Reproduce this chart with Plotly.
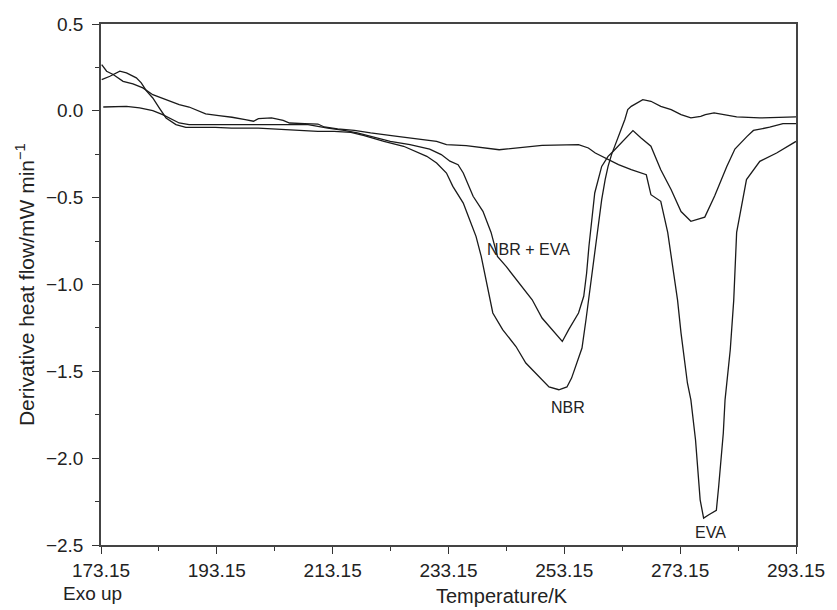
import plotly.graph_objects as go

# ---- data (Temperature / K, derivative heat flow / mW min^-1) ----
eva_T = [173.27, 174.12, 175.25, 176.96, 178.67, 180.38, 182.09, 184.38, 186.65, 188.36, 190.07,
         191.22, 193.49, 195.77, 198.06, 199.47, 200.33, 202.6, 204.6, 205.7, 208.3, 210.6, 211.7,
         214.0, 216.9, 219.7, 224.3, 229.4, 231.1, 232.8, 236.2, 241.9, 244.8, 249.3, 255.6, 257.3,
         258.5, 260.7, 262.5, 264.7, 267.3, 268.1, 269.8, 271.0, 272.7, 273.3, 274.4, 275.0, 275.8,
         276.6, 277.2, 278.1, 279.4, 279.8, 280.6, 280.9, 281.8, 282.4, 282.9, 284.6, 286.9, 289.8,
         293.15]
eva_V = [0.266, 0.228, 0.209, 0.170, 0.155, 0.132, 0.093, 0.065, 0.036, 0.022, -0.003,
         -0.018, -0.028, -0.037, -0.051, -0.060, -0.045, -0.041, -0.055, -0.070, -0.074, -0.076, -0.093,
         -0.104, -0.112, -0.127, -0.147, -0.170, -0.176, -0.195, -0.200, -0.224, -0.214, -0.199, -0.195, -0.214,
         -0.243, -0.281, -0.31, -0.339, -0.368, -0.483, -0.521, -0.70, -1.09, -1.28, -1.567, -1.664, -1.894,
         -2.24, -2.345, -2.326, -2.30, -2.163, -1.855, -1.664, -1.376, -1.09, -0.70, -0.396, -0.291, -0.243,
         -0.176]

nbr_T = [173.27, 174.69, 176.4, 177.54, 179.25, 180.1, 180.96, 182.09, 183.2, 184.38, 186.09, 187.8,
         192.9, 195.7, 200.3, 204.6, 210.6, 213.4, 216.3, 218.6, 222.0, 225.4, 227.7, 229.4, 231.1,
         232.8, 233.9, 235.7, 236.8, 237.9, 238.8, 239.6, 240.2, 240.8, 242.5, 244.8, 246.5, 247.6,
         249.3, 250.5, 252.2, 253.6, 254.4, 255.3, 256.2, 256.9, 257.4, 258.2, 259.0, 259.6, 260.2,
         260.7, 261.3, 263.6, 264.1, 264.7, 266.7, 268.1, 269.8, 271.6, 273.3, 275.0, 276.7, 277.5,
         279.0, 282.9, 286.9, 293.15]
nbr_V = [0.180, 0.199, 0.228, 0.218, 0.190, 0.161, 0.116, 0.074, 0.017, -0.041, -0.079, -0.095,
         -0.095, -0.099, -0.099, -0.108, -0.118, -0.118, -0.124, -0.143, -0.176, -0.204, -0.237, -0.262, -0.30,
         -0.358, -0.435, -0.531, -0.627, -0.723, -0.838, -0.972, -1.068, -1.164, -1.26, -1.357, -1.452, -1.49,
         -1.548, -1.59, -1.606, -1.59, -1.539, -1.452, -1.366, -1.2, -1.07, -0.876, -0.665, -0.511, -0.396,
         -0.32, -0.252, -0.05, 0.007, 0.026, 0.064, 0.055, 0.026, 0.007, -0.022, -0.041, -0.032, -0.022,
         -0.012, -0.035, -0.041, -0.035]

mix_T = [173.54, 175.25, 177.54, 179.82, 182.09, 183.8, 184.95, 186.65, 188.36, 192.9, 205.5, 208.9,
         212.3, 215.1, 217.4, 219.7, 223.1, 226.5, 227.7, 229.9, 231.9, 233.4, 234.8, 235.7, 237.4,
         239.1, 240.5, 241.6, 243.1, 245.3, 247.6, 249.3, 251.0, 252.8, 253.9, 255.6, 256.5, 257.0,
         257.4, 258.4, 259.6, 260.7, 261.6, 265.0, 266.4, 268.1, 269.8, 271.6, 273.3, 275.0, 277.4,
         279.1, 281.2, 282.6, 284.7, 285.8, 288.6, 290.9, 293.15]
mix_V = [0.022, 0.022, 0.026, 0.017, 0.001, -0.022, -0.041, -0.070, -0.079, -0.079, -0.077, -0.079,
         -0.099, -0.112, -0.127, -0.147, -0.176, -0.195, -0.204, -0.22, -0.252, -0.29, -0.31, -0.358, -0.492,
         -0.579, -0.70, -0.838, -0.896, -0.99, -1.088, -1.193, -1.26, -1.328, -1.26, -1.164, -1.068, -0.934,
         -0.78, -0.473, -0.32, -0.262, -0.233, -0.114, -0.156, -0.204, -0.339, -0.454, -0.58, -0.636, -0.612,
         -0.49, -0.32, -0.22, -0.147, -0.113, -0.094, -0.074, -0.074]

labels = ["NBR + EVA", "NBR", "EVA"]
label_T = [246.9, 253.7, 278.4]
label_V = [-0.80, -1.71, -2.43]

x_title = "Temperature/K"
y_title = "Derivative heat flow/mW min<sup>−1</sup>"
note = "Exo up"

font_family = "Liberation Sans, Arial, sans-serif"
txt_col = "#222"
line_col = "#1a1a1a"

fig = go.Figure()
for T, V in [(eva_T, eva_V), (nbr_T, nbr_V), (mix_T, mix_V)]:
    fig.add_trace(go.Scatter(x=T, y=V, mode="lines",
                             line=dict(color=line_col, width=1.3),
                             showlegend=False, hoverinfo="skip"))

for txt, tx, ty in zip(labels, label_T, label_V):
    fig.add_annotation(x=tx, y=ty, text=txt, showarrow=False,
                       font=dict(family=font_family, size=16, color=txt_col))

# axis titles and note placed as in the reference
fig.add_annotation(xref="paper", yref="paper", x=0.577, y=-0.098, text=x_title,
                   showarrow=False, xanchor="center", yanchor="middle",
                   font=dict(family=font_family, size=20, color=txt_col))
fig.add_annotation(xref="paper", yref="paper", x=-0.11, y=0.50, text=y_title,
                   textangle=-90, showarrow=False, xanchor="center", yanchor="middle",
                   font=dict(family=font_family, size=21, color=txt_col))
fig.add_annotation(xref="paper", yref="paper", x=-0.057, y=-0.093, text=note,
                   showarrow=False, xanchor="left", yanchor="middle",
                   font=dict(family=font_family, size=19, color=txt_col))

fig.update_xaxes(range=[173.15, 293.15], tick0=173.15, dtick=20, tickformat=".2f",
                 ticks="outside", ticklen=7, tickwidth=1.3, tickcolor="#333",
                 minor=dict(dtick=10, tick0=173.15, ticks="outside", ticklen=4, tickcolor="#333"),
                 showline=True, linecolor="#444", linewidth=1.5, mirror=True,
                 showgrid=False, zeroline=False, ticklabelstandoff=0,
                 tickfont=dict(family=font_family, size=19, color=txt_col))
fig.update_yaxes(range=[-2.5, 0.5], dtick=0.5, tick0=0, tickformat=".1f",
                 ticks="outside", ticklen=7, tickwidth=1.3, tickcolor="#333",
                 minor=dict(dtick=0.25, ticks="outside", ticklen=4, tickcolor="#333"),
                 showline=True, linecolor="#444", linewidth=1.5, mirror=True,
                 showgrid=False, zeroline=False, ticklabelstandoff=5,
                 tickfont=dict(family=font_family, size=19, color=txt_col))

fig.update_layout(width=837, height=610, margin=dict(l=101, r=34, t=24, b=65),
                  plot_bgcolor="white", paper_bgcolor="white")

fig.write_html("out.html")
